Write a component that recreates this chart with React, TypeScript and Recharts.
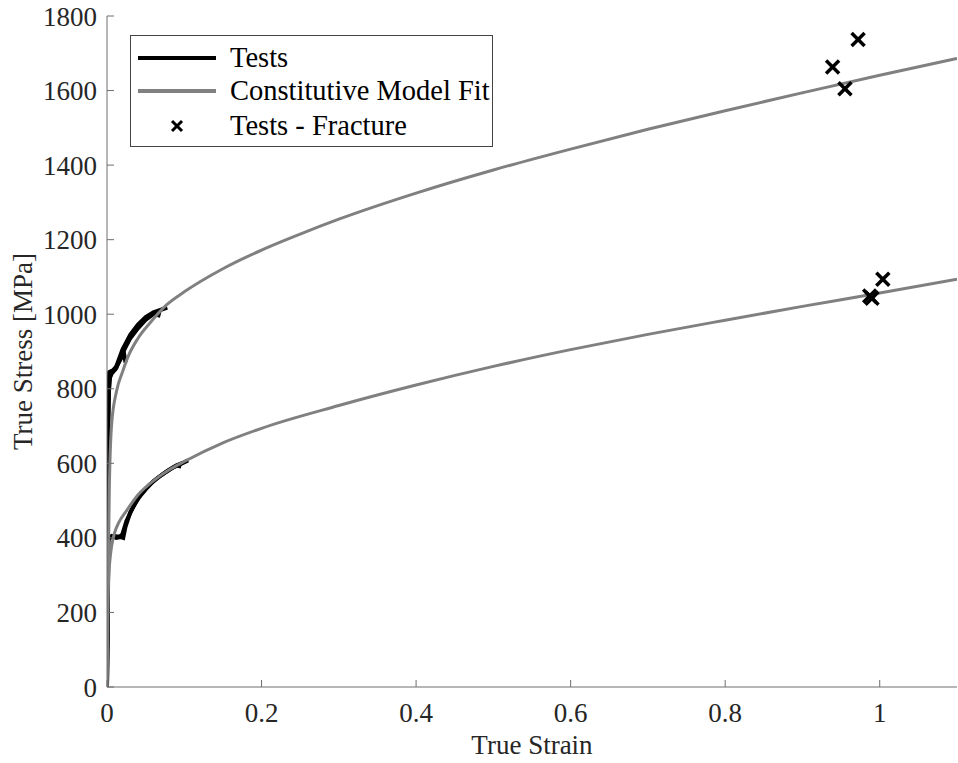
import React from 'react';
import { ComposedChart, Line, Scatter, XAxis, YAxis } from 'recharts';

// strain, stress [MPa]
const upperFit: [number, number][] = [
    [0, 0], [0.0015, 300], [0.003, 530], [0.006, 705], [0.0125, 795], [0.02, 845],
    [0.027, 885], [0.04, 935], [0.055, 975], [0.077, 1025], [0.1, 1060], [0.15, 1122],
    [0.2, 1172], [0.25, 1215], [0.3, 1255], [0.4, 1325], [0.5, 1387], [0.6, 1443],
    [0.7, 1496], [0.8, 1546], [0.9, 1594], [1.0, 1641], [1.1, 1686],
];

const lowerFit: [number, number][] = [
    [0, 0], [0.001, 200], [0.002, 285], [0.004, 345], [0.006, 378], [0.01, 415],
    [0.015, 440], [0.025, 472], [0.04, 515], [0.06, 553], [0.08, 582], [0.1, 605],
    [0.15, 655], [0.2, 694], [0.3, 755], [0.4, 810], [0.5, 860], [0.6, 905],
    [0.7, 946], [0.8, 984], [0.9, 1021], [1.0, 1057], [1.1, 1094],
];

const upperTestA: [number, number][] = [
    [0, 0], [0.0008, 500], [0.0015, 720], [0.002, 800], [0.003, 845], [0.006, 848],
    [0.01, 850], [0.012, 855], [0.016, 875], [0.02, 895], [0.03, 935], [0.04, 962],
    [0.05, 985], [0.06, 1000], [0.068, 1008], [0.066, 992],
];

const upperTestB: [number, number][] = [
    [0, 0], [0.001, 600], [0.002, 780], [0.004, 830], [0.008, 850], [0.012, 860],
    [0.02, 905], [0.03, 945], [0.04, 972], [0.05, 992], [0.06, 1005], [0.07, 1012],
    [0.078, 1018],
];

const upperTestC: [number, number][] = [
    [0, 0], [0.0015, 700], [0.003, 840], [0.008, 845], [0.015, 870], [0.022, 895],
    [0.024, 870],
];

const lowerTestA: [number, number][] = [
    [0, 0], [0.002, 400], [0.006, 405], [0.012, 400], [0.018, 402], [0.021, 400],
    [0.024, 430], [0.03, 468], [0.04, 505], [0.05, 530], [0.06, 552], [0.07, 568],
    [0.08, 582], [0.09, 595], [0.094, 598], [0.093, 587],
];

const lowerTestB: [number, number][] = [
    [0, 0], [0.0015, 395], [0.005, 402], [0.01, 405], [0.016, 403], [0.02, 410],
    [0.025, 445], [0.035, 488], [0.045, 520], [0.055, 543], [0.065, 560], [0.075, 575],
    [0.085, 588], [0.095, 598], [0.105, 608],
];

const fracture: [number, number][] = [
    [0.939, 1663], [0.955, 1605], [0.972, 1737],
    [0.987, 1049], [0.99, 1043], [1.004, 1094],
];

const xTicks = [0, 0.2, 0.4, 0.6, 0.8, 1];
const yTicks = [0, 200, 400, 600, 800, 1000, 1200, 1400, 1600, 1800];

const toPts = (arr: [number, number][]) => arr.map(([x, y]) => ({ x, y }));

const FONT = 'Liberation Serif, Tinos, DejaVu Serif, serif';
const AXIS = '#6e6e6e';
const FIT = '#808080';
const tickStyle = { fontSize: 27, fill: '#262626', fontFamily: FONT };

const Cross = (props: any) => {
    const { cx, cy } = props;
    const s = 6.5;
    return (
        <g stroke="#000" strokeWidth={3.5}>
            <line x1={cx - s} y1={cy - s} x2={cx + s} y2={cy + s} />
            <line x1={cx - s} y1={cy + s} x2={cx + s} y2={cy - s} />
        </g>
    );
};

const tests = [upperTestA, upperTestB, upperTestC, lowerTestA, lowerTestB];
const fits = [upperFit, lowerFit];

const LegendBox = () => {
    const row: React.CSSProperties = { position: 'absolute', left: 7, height: 34, display: 'flex', alignItems: 'center' };
    const text: React.CSSProperties = { position: 'absolute', left: 92, whiteSpace: 'nowrap' };
    return (
        <div style={{
            position: 'absolute', left: 130, top: 35, width: 361, height: 110,
            border: '1px solid #444', background: '#fff', fontFamily: FONT, fontSize: 28.5, color: '#000',
        }}>
            <div style={{ ...row, top: 5 }}>
                <div style={{ width: 78, height: 4, background: '#000' }} />
                <span style={text}>Tests</span>
            </div>
            <div style={{ ...row, top: 38 }}>
                <div style={{ width: 78, height: 4, background: FIT }} />
                <span style={text}>Constitutive Model Fit</span>
            </div>
            <div style={{ ...row, top: 73 }}>
                <svg width={78} height={20}>
                    <g stroke="#000" strokeWidth={3}>
                        <line x1={34} y1={5} x2={44} y2={15} />
                        <line x1={34} y1={15} x2={44} y2={5} />
                    </g>
                </svg>
                <span style={text}>Tests - Fracture</span>
            </div>
        </div>
    );
};

const App = () => {
    return (
        <div style={{ position: 'absolute', left: 0, top: 0, width: 958, height: 763, background: '#fff' }}>
            <ComposedChart width={958} height={763} margin={{ top: 16, right: 1, left: 0, bottom: 0 }}>
                <XAxis
                    dataKey="x" type="number" domain={[0, 1.1]} ticks={xTicks} allowDataOverflow
                    height={76} stroke={AXIS} tickSize={-7} tickMargin={23} tick={tickStyle}
                    label={{ value: 'True Strain', position: 'insideBottom', offset: 9, style: tickStyle }}
                />
                <XAxis
                    xAxisId="top" orientation="top" type="number" domain={[0, 1.1]} ticks={xTicks}
                    height={0} stroke={AXIS} tickSize={-7} tick={false}
                />
                <YAxis
                    type="number" domain={[0, 1800]} ticks={yTicks} width={107} stroke={AXIS}
                    tickSize={-7} tickMargin={17} tick={tickStyle}
                    label={{ value: 'True Stress [MPa]', angle: -90, position: 'insideLeft', offset: 22, style: { ...tickStyle, textAnchor: 'middle' } }}
                />
                <YAxis
                    yAxisId="right" orientation="right" type="number" domain={[0, 1800]} ticks={yTicks}
                    width={0} stroke={AXIS} tickSize={-7} tick={false}
                />
                {tests.map((t, i) => (
                    <Line key={'t' + i} data={toPts(t)} dataKey="y" type="linear" stroke="#000"
                        strokeWidth={4} dot={false} activeDot={false} isAnimationActive={false} />
                ))}
                {fits.map((f, i) => (
                    <Line key={'f' + i} data={toPts(f)} dataKey="y" type="monotone" stroke={FIT}
                        strokeWidth={3} dot={false} activeDot={false} isAnimationActive={false} />
                ))}
                <Scatter data={toPts(fracture)} dataKey="y" shape={Cross} isAnimationActive={false} />
            </ComposedChart>
            <LegendBox />
        </div>
    );
};

export default App;
